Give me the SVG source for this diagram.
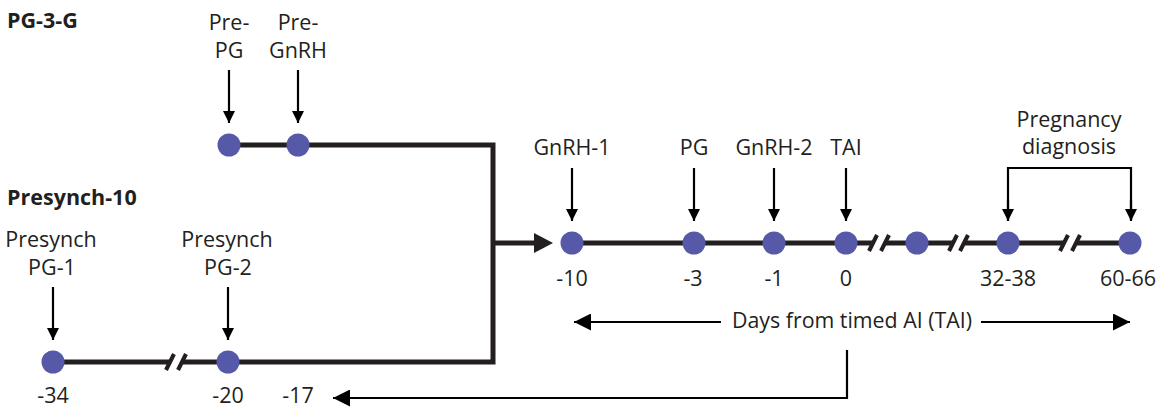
<svg xmlns="http://www.w3.org/2000/svg" width="1163" height="412" viewBox="0 0 1163 412">
<style>
.t{font-family:"Open Sans","Liberation Sans",sans-serif;font-size:21.5px;fill:#231f20;text-anchor:middle}
.b{font-family:"Open Sans","Liberation Sans",sans-serif;font-size:21.5px;font-weight:bold;fill:#231f20}
.dot{fill:#5659a8}
.thick{fill:none;stroke:#231f20;stroke-width:5;stroke-linejoin:miter}
.thin{fill:none;stroke:#000;stroke-width:2.2}
.arr{fill:none;stroke:#000;stroke-width:2.2;marker-end:url(#ah)}
.arr2{fill:none;stroke:#000;stroke-width:2.2;marker-end:url(#ah2)}
.sl{stroke:#231f20;stroke-width:4}
</style>
<defs>
<marker id="ah" viewBox="0 0 12 12" refX="12" refY="6" markerWidth="12" markerHeight="12" markerUnits="userSpaceOnUse" orient="auto"><path d="M0,0 L12,6 L0,12 z" fill="#000"/></marker>
<marker id="ah2" viewBox="0 0 17 17" refX="17" refY="8.5" markerWidth="17" markerHeight="17" markerUnits="userSpaceOnUse" orient="auto"><path d="M0,0 L17,8.5 L0,17 z" fill="#000"/></marker>
</defs>
<rect width="1163" height="412" fill="#fff"/>
<text class="b" x="7" y="28">PG-3-G</text>
<text class="b" x="7" y="205">Presynch-10</text>
<g id="connectors">
<path class="thick" d="M229,145 H493 V362 H182"/>
<path class="thick" d="M170,362 H52"/>
<path class="thick" d="M493,243 H536"/>
<polygon points="534,233 553,243 534,253" fill="#231f20"/>
<path class="thick" d="M572,243 H873"/>
<path class="thick" d="M885,243 H953"/>
<path class="thick" d="M964,243 H1064"/>
<path class="thick" d="M1076,243 H1130"/>
<g class="sl">
<line x1="166" y1="370" x2="174" y2="354"/><line x1="178" y1="370" x2="186" y2="354"/>
<line x1="869" y1="251" x2="877" y2="235"/><line x1="881" y1="251" x2="889" y2="235"/>
<line x1="949" y1="251" x2="957" y2="235"/><line x1="960" y1="251" x2="968" y2="235"/>
<line x1="1060" y1="251" x2="1068" y2="235"/><line x1="1072" y1="251" x2="1080" y2="235"/>
</g>
<line class="arr" x1="229" y1="70" x2="229" y2="123"/>
<line class="arr" x1="298" y1="70" x2="298" y2="123"/>
<line class="arr" x1="53" y1="287" x2="53" y2="340"/>
<line class="arr" x1="228" y1="287" x2="228" y2="340"/>
<line class="arr" x1="572" y1="168" x2="572" y2="221"/>
<line class="arr" x1="694" y1="168" x2="694" y2="221"/>
<line class="arr" x1="774" y1="168" x2="774" y2="221"/>
<line class="arr" x1="846" y1="168" x2="846" y2="221"/>
<path class="thin" d="M1008,220 V168 H1131 V220"/>
<line class="arr" x1="1008" y1="200" x2="1008" y2="221"/>
<line class="arr" x1="1131" y1="200" x2="1131" y2="221"/>
<line class="arr2" x1="721" y1="322" x2="574" y2="322"/>
<line class="arr2" x1="981" y1="322" x2="1130" y2="322"/>
<path class="arr2" d="M847,350 V398 H333"/>
</g>
<g id="pre-pg"><circle class="dot" cx="229" cy="145" r="11.5"/><text class="t" x="229" y="30">Pre-</text><text class="t" x="229" y="58">PG</text></g>
<g id="pre-gnrh"><circle class="dot" cx="298" cy="145" r="11.5"/><text class="t" x="298" y="30">Pre-</text><text class="t" x="298" y="58">GnRH</text></g>
<g id="presynch-pg1"><circle class="dot" cx="53" cy="362" r="11.5"/><text class="t" x="51" y="247">Presynch</text><text class="t" x="52" y="275">PG-1</text><text class="t" x="53" y="403">-34</text></g>
<g id="presynch-pg2"><circle class="dot" cx="228" cy="362" r="11.5"/><text class="t" x="227" y="247">Presynch</text><text class="t" x="228" y="275">PG-2</text><text class="t" x="228" y="403">-20</text></g>
<g id="day-17"><text class="t" x="298" y="403">-17</text></g>
<g id="gnrh1"><circle class="dot" cx="572" cy="243" r="11.5"/><text class="t" x="572" y="155">GnRH-1</text><text class="t" x="572" y="286">-10</text></g>
<g id="pg"><circle class="dot" cx="694" cy="243" r="11.5"/><text class="t" x="694" y="155">PG</text><text class="t" x="693" y="286">-3</text></g>
<g id="gnrh2"><circle class="dot" cx="774" cy="243" r="11.5"/><text class="t" x="774" y="155">GnRH-2</text><text class="t" x="774" y="286">-1</text></g>
<g id="tai"><circle class="dot" cx="846" cy="243" r="11.5"/><text class="t" x="846" y="155">TAI</text><text class="t" x="846" y="286">0</text></g>
<g id="mid"><circle class="dot" cx="917" cy="243" r="11.5"/></g>
<g id="preg1"><circle class="dot" cx="1008" cy="243" r="11.5"/><text class="t" x="1008" y="286">32-38</text></g>
<g id="preg2"><circle class="dot" cx="1130" cy="243" r="11.5"/><text class="t" x="1128" y="286">60-66</text></g>
<g id="preg-label"><text class="t" x="1069" y="127">Pregnancy</text><text class="t" x="1069" y="154">diagnosis</text></g>
<g id="days-label"><text class="t" x="852" y="328" textLength="240" lengthAdjust="spacingAndGlyphs">Days from timed AI (TAI)</text></g>
</svg>
